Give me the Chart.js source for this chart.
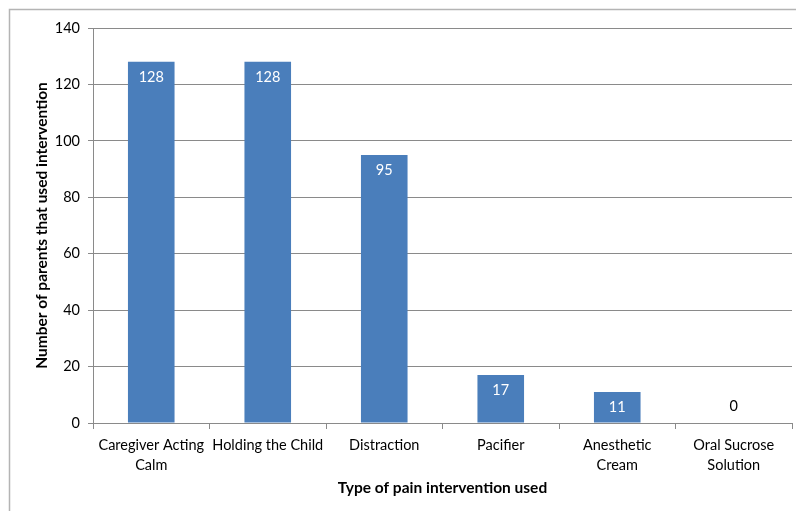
<!DOCTYPE html>
<html>
<head>
<meta charset="utf-8">
<script src="https://cdn.jsdelivr.net/npm/chart.js@4"></script>
<style>
html,body{margin:0;padding:0;background:#fff;}
#wrap{width:796px;height:511px;position:relative;}
</style>
</head>
<body>
<div id="wrap"><canvas id="c" width="796" height="511"></canvas></div>
<script>
const categories = [["Caregiver Acting","Calm"],"Holding the Child","Distraction","Pacifier",["Anesthetic","Cream"],["Oral Sucrose","Solution"]];
const values = [128,128,95,17,11,0];
const yTicks = [0,20,40,60,80,100,120,140];
const xTitle = "Type of pain intervention used";
const yTitle = "Number of parents that used intervention";

const FONT = "Lato, 'Open Sans', sans-serif";
const GRID = "#8a8a8a";

const framePlugin = {
  id: 'frame',
  beforeDraw(chart) {
    const ctx = chart.ctx;
    ctx.save();
    ctx.strokeStyle = '#b4b4b4';
    ctx.lineWidth = 1.5;
    ctx.strokeRect(9.5, 9.5, 1000, 1000);
    ctx.restore();
  }
};

const labelPlugin = {
  id: 'barLabels',
  afterDatasetsDraw(chart) {
    const ctx = chart.ctx;
    const meta = chart.getDatasetMeta(0);
    ctx.save();
    ctx.font = "14.5px " + FONT;
    ctx.textAlign = 'center';
    ctx.textBaseline = 'middle';
    meta.data.forEach((bar, i) => {
      const v = chart.data.datasets[0].data[i];
      if (v > 0) {
        ctx.fillStyle = '#ffffff';
        ctx.fillText(String(v), bar.x, bar.y + 15);
      } else {
        ctx.fillStyle = '#000000';
        ctx.fillText(String(v), bar.x, bar.y - 17);
      }
    });
    ctx.restore();
  }
};

new Chart(document.getElementById('c'), {
  type: 'bar',
  data: {
    labels: categories,
    datasets: [{
      data: values,
      backgroundColor: '#4A7EBB',
      borderWidth: 0,
      categoryPercentage: 1,
      barPercentage: 0.4
    }]
  },
  options: {
    responsive: false,
    animation: false,
    layout: { padding: { left: 0, top: 28, right: 4, bottom: 0 } },
    plugins: { legend: { display: false }, tooltip: { enabled: false } },
    scales: {
      x: {
        offset: true,
        grid: { offset: true, drawOnChartArea: false, drawTicks: true, tickLength: 6, color: GRID },
        border: { display: true, color: GRID, width: 1 },
        ticks: { color: '#000', font: { family: FONT, size: 14.5, lineHeight: 1.38 }, padding: 6, maxRotation: 0, autoSkip: false },
        title: { display: true, text: xTitle, color: '#000', font: { family: FONT, size: 15.5, weight: 'bold' }, padding: { top: 0, bottom: 14 } },
        afterFit(scale) { scale.height = 88; }
      },
      y: {
        min: 0, max: 140,
        afterBuildTicks(scale) { scale.ticks = yTicks.map(v => ({ value: v })); },
        grid: { color: GRID, drawTicks: true, tickLength: 5 },
        border: { display: true, color: GRID, width: 1 },
        ticks: { color: '#000', font: { family: FONT, size: 14.5 }, padding: 8 },
        title: { display: true, text: yTitle, color: '#000', font: { family: FONT, size: 15.5, weight: 'bold' }, padding: { top: 33, bottom: 0 } },
        afterFit(scale) { scale.width = 93; }
      }
    }
  },
  plugins: [framePlugin, labelPlugin]
});
</script>
</body>
</html>
